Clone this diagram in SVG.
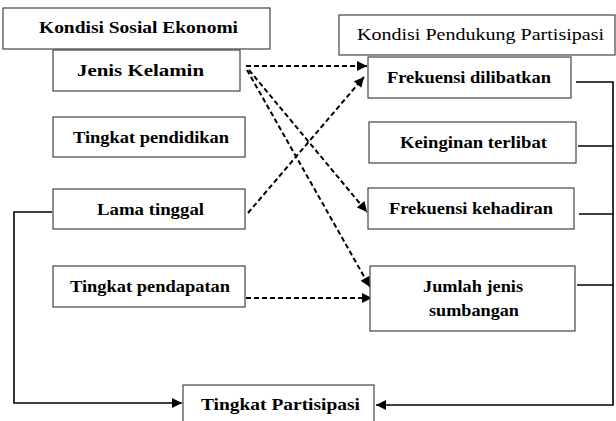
<svg xmlns="http://www.w3.org/2000/svg" width="616" height="421" viewBox="0 0 616 421">
<style>
.box{fill:#fff;stroke:#444;stroke-width:1.2}
.t{font-family:"Liberation Serif","Times New Roman",serif;font-weight:bold;font-size:17px;fill:#000;text-anchor:middle}
.tn{font-family:"Liberation Serif","Times New Roman",serif;font-size:17px;fill:#000;text-anchor:middle}
.solid{fill:none;stroke:#000;stroke-width:1.6}
.dash{fill:none;stroke:#000;stroke-width:2;stroke-dasharray:5,3}
</style>
<defs>
<marker id="ah" viewBox="0 0 10 10" refX="10" refY="5" markerWidth="11" markerHeight="10" markerUnits="userSpaceOnUse" orient="auto">
<path d="M0,0 L10,5 L0,10 z" fill="#000"/>
</marker>
</defs>
<rect width="616" height="421" fill="#fff"/>
<g id="connectors">
<path class="dash" d="M246,66 L367,66" marker-end="url(#ah)"/>
<path class="dash" d="M248,213 L364,77" marker-end="url(#ah)"/>
<path class="dash" d="M249,70 L367,212" marker-end="url(#ah)"/>
<path class="dash" d="M247,70 L370,287" marker-end="url(#ah)"/>
<path class="dash" d="M246,298 L372,298" marker-end="url(#ah)"/>
<path class="solid" d="M576,82 L613,82 L613,405 L376,405" marker-end="url(#ah)"/>
<path class="solid" d="M578,146 L613,146"/>
<path class="solid" d="M579,214 L613,214"/>
<path class="solid" d="M577,285 L613,285"/>
<path class="solid" d="M52,212 L14,212 L14,403 L182,403" marker-end="url(#ah)"/>
</g>
<g id="n-kse"><rect class="box" x="3" y="8" width="267" height="41"/><text class="t" x="138.5" y="33" textLength="199" lengthAdjust="spacingAndGlyphs">Kondisi Sosial Ekonomi</text></g>
<g id="n-jk"><rect class="box" x="53" y="50" width="187" height="41"/><text class="t" x="140.5" y="76" textLength="127" lengthAdjust="spacingAndGlyphs">Jenis Kelamin</text></g>
<g id="n-tpd"><rect class="box" x="53" y="117" width="192" height="40"/><text class="t" x="151" y="143" textLength="156" lengthAdjust="spacingAndGlyphs">Tingkat pendidikan</text></g>
<g id="n-lt"><rect class="box" x="53" y="189" width="192" height="40"/><text class="t" x="150.5" y="215" textLength="107" lengthAdjust="spacingAndGlyphs">Lama tinggal</text></g>
<g id="n-tpn"><rect class="box" x="53" y="266" width="192" height="41"/><text class="t" x="150" y="292" textLength="160" lengthAdjust="spacingAndGlyphs">Tingkat pendapatan</text></g>
<g id="n-kpp"><rect class="box" x="339" y="15" width="276" height="40"/><text class="tn" x="480.5" y="40" textLength="247" lengthAdjust="spacingAndGlyphs">Kondisi Pendukung Partisipasi</text></g>
<g id="n-fd"><rect class="box" x="368" y="57" width="203" height="41"/><text class="t" x="469" y="83" textLength="164" lengthAdjust="spacingAndGlyphs">Frekuensi dilibatkan</text></g>
<g id="n-kt"><rect class="box" x="369" y="122" width="207" height="41"/><text class="t" x="473.5" y="148" textLength="147" lengthAdjust="spacingAndGlyphs">Keinginan terlibat</text></g>
<g id="n-fk"><rect class="box" x="368" y="188" width="206" height="41"/><text class="t" x="471" y="214" textLength="164" lengthAdjust="spacingAndGlyphs">Frekuensi kehadiran</text></g>
<g id="n-js"><rect class="box" x="370" y="266" width="205" height="65"/><text class="t" x="473" y="292" textLength="100" lengthAdjust="spacingAndGlyphs">Jumlah jenis</text><text class="t" x="474" y="316" textLength="90" lengthAdjust="spacingAndGlyphs">sumbangan</text></g>
<g id="n-tp"><rect class="box" x="183" y="385" width="191" height="45"/><text class="t" x="280.5" y="410" textLength="159" lengthAdjust="spacingAndGlyphs">Tingkat Partisipasi</text></g>
</svg>
